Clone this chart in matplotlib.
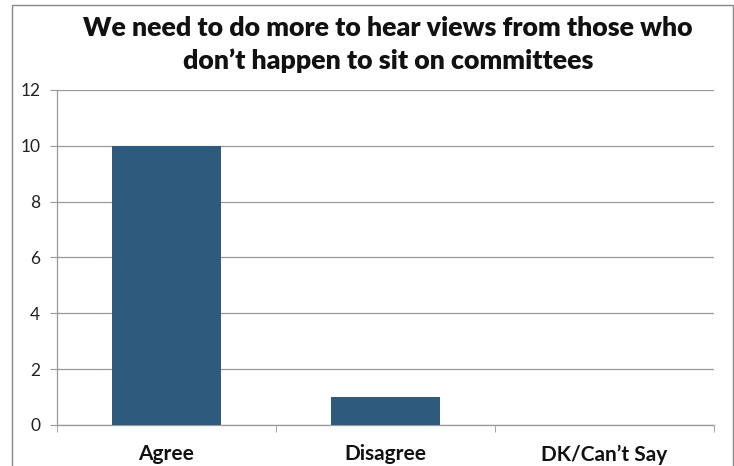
import matplotlib
matplotlib.use("Agg")
import matplotlib.pyplot as plt
from matplotlib.patches import Rectangle

# Survey responses
categories = ['Agree', 'Disagree', 'DK/Can\u2019t Say']
counts = [10, 1, 0]
yticks = [0, 2, 4, 6, 8, 10, 12]
title = 'We need to do more to hear views from those who\ndon\u2019t happen to sit on committees'

plt.rcParams['font.family'] = ['Lato', 'DejaVu Sans']

fig = plt.figure(figsize=(7.34, 4.66), dpi=100)
ax = fig.add_axes([0.0777, 0.088, 0.895, 0.719])

ax.bar(range(len(categories)), counts, width=0.5, color='#2E5B7D', zorder=3)

ax.set_xlim(-0.5, len(categories) - 0.5)
ax.set_ylim(0, 12)
ax.set_yticks(yticks)
ax.set_yticklabels([str(v) for v in yticks], fontsize=12.5, color='#222222')
ax.set_xticks(range(len(categories)))
ax.set_xticklabels(categories, fontsize=15, fontweight='bold', color='#111111')
ax.set_xticks([i - 0.5 for i in range(len(categories) + 1)], minor=True)
ax.tick_params(axis='x', which='major', length=0, pad=14)
ax.tick_params(axis='x', which='minor', length=5, color='#999999')
ax.tick_params(axis='y', length=5, color='#999999', pad=7)

ax.grid(axis='y', color='#999999', linewidth=0.9, zorder=0)
for side in ['top', 'right']:
    ax.spines[side].set_visible(False)
for side in ['left', 'bottom']:
    ax.spines[side].set_color('#999999')
    ax.spines[side].set_linewidth(0.9)

fig.text(0.529, 0.904, title, ha='center', va='center', fontsize=19.3,
         fontweight='heavy', color='#111111', linespacing=1.4)

# outer chart frame
frame = Rectangle((12 / 734, -0.01), 721 / 734, 1 - 5 / 466 + 0.01,
                  transform=fig.transFigure, fill=False,
                  edgecolor='#888888', linewidth=1.0)
fig.patches.append(frame)

fig.savefig('out.png', dpi=100)
